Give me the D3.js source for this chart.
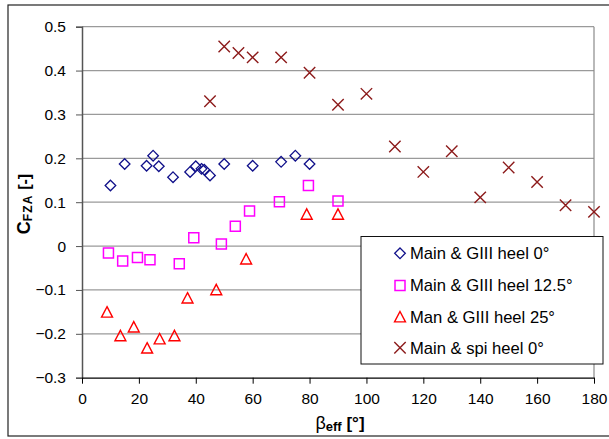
<!DOCTYPE html>
<html>
<head>
<meta charset="utf-8">
<script src="https://cdn.jsdelivr.net/npm/d3@7"></script>
<style>
  html, body { margin: 0; padding: 0; background: #fff; }
  svg { display: block; font-family: "Liberation Sans", Arial, sans-serif; }
</style>
</head>
<body>
<svg id="chart" width="609" height="439"></svg>
<script>
// Side-force coefficient C_FZA against effective apparent wind angle
const xTicks = [0, 20, 40, 60, 80, 100, 120, 140, 160, 180];
const yTicks = [-0.3, -0.2, -0.1, 0, 0.1, 0.2, 0.3, 0.4, 0.5];

const betaHeel0 = [10, 15, 22.7, 25, 27, 32, 38, 40, 42, 43, 45, 50, 60, 70, 75, 80];
const cfzaHeel0 = [0.138, 0.187, 0.183, 0.206, 0.182, 0.157, 0.169, 0.182, 0.176, 0.174, 0.161, 0.187, 0.183, 0.192, 0.206, 0.187];

const betaHeel125 = [9.3, 14.3, 19.5, 23.9, 34.2, 39.3, 49, 53.9, 58.9, 69.4, 79.6, 90];
const cfzaHeel125 = [-0.016, -0.034, -0.026, -0.031, -0.040, 0.019, 0.005, 0.045, 0.080, 0.101, 0.138, 0.103];

const betaHeel25 = [8.8, 13.5, 18.2, 22.9, 27.3, 32.5, 37.1, 47.2, 57.7, 79, 90];
const cfzaHeel25 = [-0.150, -0.204, -0.184, -0.232, -0.211, -0.204, -0.118, -0.099, -0.029, 0.073, 0.073];

const betaSpi = [45, 50, 55, 60, 70, 80, 90, 100, 110, 120, 130, 140, 150, 160, 170, 180];
const cfzaSpi = [0.330, 0.455, 0.440, 0.430, 0.430, 0.395, 0.322, 0.347, 0.227, 0.169, 0.216, 0.111, 0.179, 0.146, 0.093, 0.078];

const seriesNames = ["Main & GIII heel 0°", "Main & GIII heel 12.5°", "Man & GIII heel 25°", "Main & spi heel 0°"];

// marker path builders, centred on 0,0
const markers = {
  diamond: r => `M0,${-r}L${r},0L0,${r}L${-r},0Z`,
  square: r => `M${-r},${-r}H${r}V${r}H${-r}Z`,
  triangle: r => `M0,${-r}L${r * 1.05},${r}L${-r * 1.05},${r}Z`,
  cross: r => `M${-r},${-r}L${r},${r}M${r},${-r}L${-r},${r}`
};

const series = [
  { name: seriesNames[0], xs: betaHeel0, ys: cfzaHeel0, shape: "diamond", r: 5.3, color: "#10108a", sw: 1.3 },
  { name: seriesNames[1], xs: betaHeel125, ys: cfzaHeel125, shape: "square", r: 5, color: "#ff00ff", sw: 1.5 },
  { name: seriesNames[2], xs: betaHeel25, ys: cfzaHeel25, shape: "triangle", r: 5.2, color: "#ff0000", sw: 1.4 },
  { name: seriesNames[3], xs: betaSpi, ys: cfzaSpi, shape: "cross", r: 5.7, color: "#8c1a1a", sw: 1.4 }
];

const svg = d3.select("#chart");

// outer chart frame
svg.append("rect")
  .attr("x", 8).attr("y", 5).attr("width", 620).attr("height", 431)
  .attr("fill", "#fff").attr("stroke", "#222").attr("stroke-width", 1.2);

const x = d3.scaleLinear().domain([0, 180]).range([82, 594]);
const y = d3.scaleLinear().domain([-0.3, 0.5]).range([377.7, 26.7]);

// horizontal gridlines
svg.append("g")
  .selectAll("line")
  .data(yTicks.filter(v => v > -0.3))
  .join("line")
  .attr("x1", x(0)).attr("x2", x(180))
  .attr("y1", d => y(d)).attr("y2", d => y(d))
  .attr("stroke", "#9a9a9a").attr("stroke-width", 1.3);

// right border of plot area
svg.append("line")
  .attr("x1", x(180)).attr("x2", x(180))
  .attr("y1", y(0.5)).attr("y2", y(-0.3))
  .attr("stroke", "#8a8a8a").attr("stroke-width", 1.2);

// y axis
const yAxis = d3.axisLeft(y).tickValues(yTicks).tickSize(6).tickPadding(10)
  .tickFormat(d => d === 0 ? "0" : d3.format(".1f")(d));
const gy = svg.append("g").attr("transform", `translate(${x(0)},0)`).call(yAxis);
gy.select(".domain").attr("stroke", "#555").attr("stroke-width", 1.5);
gy.selectAll(".tick line").attr("stroke", "#555");
gy.selectAll(".tick text").attr("font-size", 15.5).attr("fill", "#000")
  .attr("font-family", "Liberation Sans, Arial, sans-serif");

// x axis
const xAxis = d3.axisBottom(x).tickValues(xTicks).tickSize(6).tickPadding(9).tickSizeOuter(0);
const gx = svg.append("g").attr("transform", `translate(0,${y(-0.3)})`).call(xAxis);
gx.select(".domain").attr("stroke", "#000").attr("stroke-width", 1.2);
gx.selectAll(".tick line").attr("stroke", "#000");
gx.selectAll(".tick text").attr("font-size", 15.5).attr("fill", "#000")
  .attr("font-family", "Liberation Sans, Arial, sans-serif");

// data markers
series.forEach(s => {
  svg.append("g")
    .selectAll("path")
    .data(s.xs.map((v, i) => [v, s.ys[i]]))
    .join("path")
    .attr("transform", d => `translate(${x(d[0])},${y(d[1])})`)
    .attr("d", markers[s.shape](s.r))
    .attr("fill", "none")
    .attr("stroke", s.color)
    .attr("stroke-width", s.sw);
});

// legend
const legend = svg.append("g");
legend.append("rect")
  .attr("x", 361).attr("y", 236.5).attr("width", 242).attr("height", 127.5)
  .attr("fill", "#fff").attr("stroke", "#111").attr("stroke-width", 1);
const rowY = [253.3, 285.5, 316.7, 347.7];
series.forEach((s, i) => {
  legend.append("path")
    .attr("transform", `translate(400,${rowY[i]})`)
    .attr("d", markers[s.shape](s.r))
    .attr("fill", "none").attr("stroke", s.color).attr("stroke-width", s.sw);
  legend.append("text")
    .attr("x", 410).attr("y", rowY[i]).attr("dy", "0.36em")
    .attr("font-size", 16.6).attr("fill", "#000")
    .text(s.name);
});

// axis titles
const xt = svg.append("text")
  .attr("x", 340).attr("y", 429)
  .attr("text-anchor", "middle").attr("fill", "#000");
xt.append("tspan").attr("font-size", 18).text("β");
xt.append("tspan").attr("font-size", 13).attr("font-weight", "bold").attr("dy", 2).text("eff");
xt.append("tspan").attr("font-size", 17).attr("font-weight", "bold").attr("dy", -2).text(" [°]");

const yt = svg.append("text")
  .attr("transform", "translate(30,204) rotate(-90)")
  .attr("text-anchor", "middle").attr("fill", "#000").attr("font-weight", "bold");
yt.append("tspan").attr("font-size", 18).text("C");
yt.append("tspan").attr("font-size", 12).attr("letter-spacing", 1.2).attr("dy", 2).text("FZA");
yt.append("tspan").attr("font-size", 16).attr("dy", -2).text(" [-]");
</script>
</body>
</html>
